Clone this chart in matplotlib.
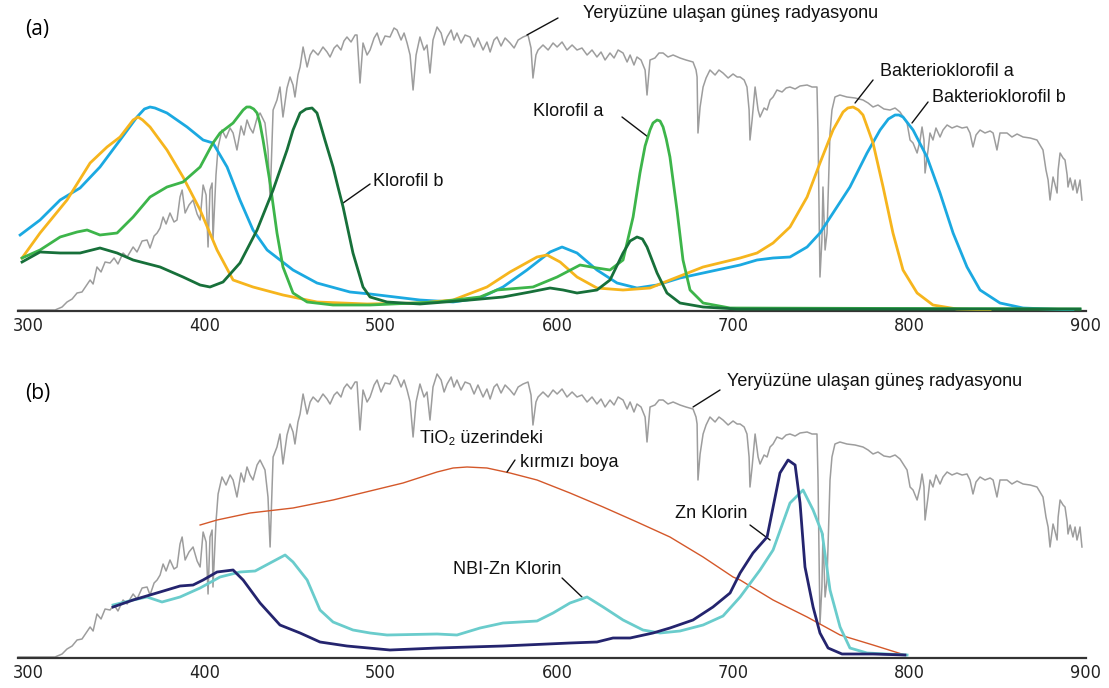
import matplotlib
matplotlib.use("Agg")
import matplotlib.pyplot as plt

plt.rcParams['font.family'] = ['Liberation Sans', 'DejaVu Sans']

# solar spectrum reaching the ground (same trace used in both panels)
solar_nm = [294.3, 315.3, 319.3, 322.1, 325.0, 327.8, 330.6, 332.9, 335.2, 336.9,
            339.1, 341.4, 343.7, 346.5, 348.8, 351.0, 353.9, 356.2, 359.6, 361.8,
            364.7, 367.5, 369.2, 371.5, 373.2, 374.9, 376.6, 378.3, 380.5, 382.8,
            384.5, 386.2, 387.4, 389.1, 391.3, 393.6, 395.9, 397.6, 399.3, 401.0,
            402.1, 403.2, 404.4, 404.9, 406.6, 407.8, 410.0, 412.3, 414.6, 416.3,
            418.5, 420.8, 422.5, 424.2, 425.9, 427.6, 429.9, 431.6, 434.4, 436.1,
            437.3, 439.0, 441.2, 442.9, 444.6, 446.9, 448.6, 450.3, 451.4, 453.1,
            454.3, 456.0, 458.3, 460.0, 461.7, 464.5, 467.3, 469.6, 471.3, 473.6,
            475.3, 477.5, 479.2, 480.9, 483.2, 485.5, 486.6, 488.3, 490.0, 492.3,
            494.0, 496.3, 498.0, 500.2, 502.5, 505.3, 507.6, 509.3, 511.6, 513.3,
            515.0, 516.7, 518.4, 520.1, 522.3, 524.6, 526.3, 528.0, 529.7, 532.0,
            534.3, 536.0, 537.7, 540.0, 541.6, 543.3, 545.6, 547.9, 550.7, 553.0,
            555.2, 558.1, 560.3, 562.1, 564.3, 566.0, 568.3, 570.6, 573.4, 575.7,
            578.0, 580.8, 583.6, 585.3, 586.4, 588.1, 589.3, 592.1, 595.0, 597.8,
            600.1, 602.9, 605.7, 608.6, 611.4, 614.2, 617.1, 619.9, 622.7, 625.0,
            627.3, 630.1, 632.4, 634.7, 637.5, 639.8, 641.5, 643.7, 645.4, 647.7,
            650.0, 651.1, 652.8, 655.6, 657.9, 660.2, 663.0, 665.9, 669.8, 673.2,
            677.2, 678.9, 679.5, 680.0, 681.2, 682.9, 684.6, 686.8, 689.7, 691.9,
            694.2, 697.1, 699.9, 702.2, 703.9, 706.2, 707.8, 709.0, 709.5, 710.7,
            712.4, 714.1, 715.2, 717.5, 719.2, 720.9, 722.6, 724.8, 727.7, 730.0,
            732.2, 735.1, 737.9, 741.9, 744.7, 747.5, 748.1, 749.2, 750.3, 750.9,
            752.1, 753.2, 754.9, 756.0, 757.7, 760.5, 764.5, 769.1, 773.6, 776.5,
            779.3, 782.1, 785.5, 788.9, 791.8, 794.6, 798.6, 800.3, 802.0, 804.3,
            806.0, 807.1, 808.2, 808.8, 810.5, 811.6, 813.3, 815.0, 817.3, 819.0,
            821.3, 824.1, 826.9, 829.8, 832.6, 834.3, 836.0, 837.7, 840.0, 842.8,
            845.7, 847.4, 849.6, 851.3, 855.3, 858.1, 861.0, 864.4, 868.4, 872.3,
            875.7, 877.4, 878.6, 879.7, 880.8, 881.4, 882.6, 883.7, 884.3, 885.4,
            887.1, 888.2, 889.4, 889.9, 891.1, 892.7, 893.9, 895.0, 896.1, 896.7,
            897.8]
solar_val = [1, 1, 4, 9, 12, 18, 19, 25, 31, 27,
             44, 39, 49, 48, 53, 47, 58, 54, 64, 59,
             70, 71, 63, 75, 78, 83, 94, 87, 98, 89,
             91, 114, 121, 98, 106, 111, 97, 91, 126, 116,
             64, 121, 128, 71, 136, 164, 181, 173, 183, 178,
             161, 185, 176, 191, 183, 178, 193, 198, 188, 161,
             111, 201, 211, 224, 194, 223, 234, 226, 214, 236,
             244, 264, 244, 256, 261, 256, 264, 259, 254, 263,
             266, 261, 270, 274, 269, 276, 276, 228, 268, 256,
             261, 273, 278, 266, 275, 274, 283, 281, 271, 278,
             268, 256, 221, 256, 274, 261, 266, 238, 271, 284,
             278, 266, 274, 281, 271, 278, 268, 276, 274, 264,
             273, 261, 269, 259, 271, 274, 265, 273, 268, 263,
             271, 274, 276, 263, 233, 256, 261, 266, 261, 268,
             264, 269, 261, 266, 261, 263, 256, 261, 254, 259,
             251, 258, 253, 261, 258, 249, 256, 246, 254, 251,
             241, 216, 251, 253, 258, 258, 254, 256, 253, 251,
             249, 241, 234, 178, 204, 224, 233, 241, 236, 241,
             238, 233, 237, 234, 234, 231, 224, 201, 171, 191,
             224, 201, 194, 203, 201, 211, 214, 221, 219, 223,
             224, 222, 225, 226, 224, 224, 178, 34, 71, 124,
             61, 78, 178, 201, 214, 216, 214, 213, 211, 208,
             204, 206, 202, 201, 203, 199, 188, 171, 168, 158,
             171, 184, 171, 138, 161, 178, 171, 183, 174, 181,
             186, 183, 185, 183, 184, 178, 164, 176, 181, 178,
             180, 178, 161, 178, 178, 174, 177, 174, 173, 171,
             161, 141, 131, 111, 126, 134, 126, 118, 141, 158,
             153, 151, 136, 124, 133, 121, 131, 118, 126, 131,
             111]

# panel (a): pigment absorption
bchl_b_nm = [295.5, 306.8, 318.2, 329.5, 340.8, 352.2, 361.8, 366.0, 369.2, 372.0,
             378.8, 390.2, 399.3, 404.9, 412.9, 420.2, 427.6, 435.6, 450.3, 463.9,
             482.6, 494.0, 522.3, 541.1, 556.4, 569.4, 583.0, 596.1, 602.9, 611.4,
             622.7, 634.1, 645.4, 656.8, 669.8, 682.9, 703.9, 713.5, 722.6, 732.2,
             741.9, 749.2, 756.6, 766.2, 775.9, 783.3, 788.0, 791.8, 794.0, 796.3,
             802.0, 809.9, 817.3, 824.7, 832.6, 840.0, 851.3, 864.4, 892.7]
bchl_b_val = [76, 91, 111, 123, 144, 171, 194, 202, 204, 203,
              198, 184, 171, 168, 144, 111, 81, 61, 41, 28,
              19, 17, 11, 9, 13, 24, 41, 59, 64, 58,
              41, 28, 23, 26, 33, 38, 46, 51, 53, 54,
              64, 78, 98, 124, 158, 181, 192, 196, 196, 194,
              181, 154, 118, 78, 44, 21, 8, 3, 1]

bchl_a_nm = [296.6, 306.8, 322.1, 335.2, 344.8, 352.2, 359.6, 362.4, 365.0, 369.2,
             378.8, 387.9, 397.6, 407.2, 416.3, 427.6, 444.6, 463.9, 492.3, 522.3,
             541.1, 560.3, 573.4, 588.7, 594.4, 601.8, 611.4, 622.7, 637.5, 652.8,
             664.1, 682.9, 703.9, 713.5, 722.6, 732.2, 741.9, 749.2, 756.6, 762.3,
             765.0, 768.0, 771.0, 773.6, 779.3, 785.0, 790.6, 796.3, 804.3, 813.3,
             826.9, 845.7]
bchl_a_val = [53, 78, 111, 148, 164, 174, 191, 194, 191, 184,
              161, 134, 101, 61, 31, 24, 16, 9, 7, 8,
              11, 24, 39, 54, 56, 49, 34, 23, 21, 23,
              31, 44, 53, 58, 68, 84, 114, 148, 181, 199,
              203, 204, 201, 196, 168, 124, 78, 41, 18, 6,
              2, 1]

chl_a_nm = [296.6, 306.8, 318.2, 327.8, 333.5, 340.8, 350.5, 359.6, 369.2, 378.8,
            387.9, 397.6, 404.9, 408.9, 416.3, 422.0, 424.0, 425.9, 428.0, 429.9,
            431.5, 433.3, 437.3, 441.2, 444.6, 450.3, 458.3, 473.0, 494.0, 532.0,
            556.4, 566.0, 586.4, 600.1, 613.1, 622.7, 630.1, 637.5, 643.2, 647.1,
            650.0, 652.8, 654.5, 656.8, 658.5, 660.2, 662.0, 664.1, 668.1, 671.5,
            675.5, 682.9, 698.2, 896.7]
chl_a_val = [53, 61, 74, 79, 81, 76, 78, 94, 114, 124,
             129, 144, 168, 178, 188, 201, 204, 204, 202, 198,
             188, 171, 128, 78, 44, 18, 9, 6, 6, 9,
             14, 21, 24, 34, 46, 43, 41, 51, 94, 138,
             165, 181, 188, 191, 190, 184, 172, 154, 101, 51,
             21, 8, 3, 2]

chl_b_nm = [296.6, 306.8, 318.2, 329.5, 340.8, 350.5, 359.6, 374.9, 387.9, 397.6,
            403.2, 410.6, 420.2, 429.9, 439.0, 446.9, 450.3, 454.3, 457.7, 461.1,
            463.9, 465.6, 468.4, 473.0, 475.8, 478.7, 484.3, 490.0, 494.0, 503.6,
            522.3, 550.7, 569.4, 584.7, 596.1, 603.5, 611.4, 622.7, 630.1, 637.5,
            641.5, 645.4, 648.5, 651.1, 656.8, 662.4, 669.8, 682.9, 702.2, 896.7]
chl_b_val = [49, 59, 58, 58, 63, 58, 51, 44, 34, 26,
             24, 29, 48, 81, 121, 161, 181, 198, 202, 203,
             198, 188, 171, 144, 124, 104, 58, 24, 14, 9,
             7, 11, 14, 19, 23, 21, 18, 21, 31, 58,
             70, 74, 72, 64, 38, 18, 8, 4, 2, 2]

# panel (b): dyes
tio2_nm = [397.6, 407.2, 425.9, 450.3, 473.0, 494.0, 512.7, 532.0, 541.1, 549.0,
           560.3, 573.4, 588.7, 607.4, 626.2, 645.4, 664.1, 682.9, 699.9, 703.9,
           722.6, 741.9, 760.6, 779.3, 797.4]
tio2_val = [133, 138, 145, 150, 158, 167, 175, 186, 190, 191,
            190, 185, 178, 165, 151, 136, 121, 101, 81, 78,
            58, 41, 23, 13, 3]

zn_nm = [348.2, 359.6, 374.9, 386.2, 393.6, 399.3, 407.2, 416.3, 422.0, 431.6,
         442.9, 454.3, 465.6, 480.9, 505.3, 532.0, 569.4, 607.4, 622.7, 631.8,
         641.5, 654.5, 664.1, 677.2, 688.5, 698.2, 703.9, 711.2, 719.2, 726.5,
         731.1, 735.1, 737.9, 740.7, 745.3, 749.2, 753.8, 761.7, 779.3, 797.4]
zn_val = [51, 58, 66, 72, 73, 78, 86, 88, 78, 55,
          33, 25, 16, 12, 8, 10, 12, 15, 16, 20,
          20, 25, 30, 38, 51, 65, 85, 105, 121, 185,
          198, 193, 155, 91, 51, 25, 10, 4, 4, 3]

nbi_nm = [348.2, 359.6, 367.5, 376.0, 386.2, 397.6, 408.9, 420.2, 428.8, 445.8,
          450.3, 458.3, 465.6, 473.0, 484.3, 494.0, 503.6, 532.0, 543.3, 556.4,
          569.4, 588.7, 597.8, 607.4, 617.1, 626.2, 637.5, 648.8, 658.5, 669.8,
          682.9, 694.2, 703.9, 715.2, 722.6, 732.2, 739.6, 745.3, 750.4, 754.9,
          760.6, 766.2, 775.9, 798.6]
nbi_val = [53, 58, 61, 56, 61, 70, 81, 86, 87, 103,
           96, 78, 48, 36, 28, 25, 23, 24, 23, 30,
           35, 37, 45, 55, 61, 51, 38, 28, 25, 27,
           33, 42, 61, 88, 108, 155, 168, 148, 125, 68,
           31, 10, 5, 3]

ticks = [300, 400, 500, 600, 700, 800, 900]

GRAY = '#9d9d9d'
W, H = 1109, 688

fig = plt.figure(figsize=(W / 100, H / 100), dpi=100)
ax_a = fig.add_axes([18 / W, 1 - 311 / H, 1068 / W, 311 / H])
ax_b = fig.add_axes([18 / W, 1 - 658 / H, 1068 / W, 313 / H])

for ax, top in [(ax_a, 311), (ax_b, 313)]:
    ax.set_xlim(294.3, 900.1)
    ax.set_ylim(0, top)
    ax.patch.set_alpha(0)
    for side in ['left', 'right', 'top']:
        ax.spines[side].set_visible(False)
    ax.spines['bottom'].set_color('#333333')
    ax.spines['bottom'].set_linewidth(1.6)
    ax.set_yticks([])
    ax.set_xticks(ticks)
    ax.set_xticklabels([str(t) for t in ticks], family='DejaVu Sans',
                       fontstretch='condensed', fontsize=13, color='#222222')
    ax.tick_params(axis='x', length=0, pad=4)
    ax.plot(solar_nm, solar_val, color=GRAY, lw=1.1, zorder=1, clip_on=False)

# (a)
ax_a.plot(bchl_b_nm, bchl_b_val, color='#1ba9e1', lw=2.0, zorder=3)
ax_a.plot(bchl_a_nm, bchl_a_val, color='#f6b51d', lw=2.0, zorder=3)
ax_a.plot(chl_a_nm, chl_a_val, color='#3db54a', lw=2.0, zorder=4)
ax_a.plot(chl_b_nm, chl_b_val, color='#17703a', lw=2.0, zorder=5)

# (b)
ax_b.plot(tio2_nm, tio2_val, color='#d4582a', lw=1.0, zorder=3)
ax_b.plot(nbi_nm, nbi_val, color='#6acccc', lw=2.0, zorder=4)
ax_b.plot(zn_nm, zn_val, color='#24246e', lw=2.0, zorder=5)

# labels with leader lines: (text, text x, text y, leader start, leader end)
labels_a = [
    ('Yeryüzüne ulaşan güneş radyasyonu', 614.8, 297, (583.0, 276), (600.6, 293)),
    ('Klorofil b', 495.7, 129, (478.7, 108), (494.0, 127)),
    ('Klorofil a', 586.4, 199, (651.7, 174), (636.9, 194)),
    ('Bakterioklorofil a', 783.3, 239, (769.1, 208), (779.3, 231)),
    ('Bakterioklorofil b', 812.8, 214, (801.4, 188), (810.5, 209)),
]
labels_b = [
    ('Yeryüzüne ulaşan güneş radyasyonu', 696.5, 277, (677.2, 251), (692.5, 268)),
    ('TiO₂ üzerindeki', 522.3, 220, None, None),
    ('kırmızı boya', 579.1, 196, (571.7, 186), (576.2, 198)),
    ('NBI-Zn Klorin', 541.1, 88, (614.2, 61), (602.9, 80)),
    ('Zn Klorin', 667.0, 145, (720.9, 118), (709.5, 133)),
]
for ax, labels in [(ax_a, labels_a), (ax_b, labels_b)]:
    for txt, tx, ty, p0, p1 in labels:
        ax.text(tx, ty, txt, fontsize=13, ha='left', va='center', color='#111111')
        if p0 is not None:
            ax.annotate('', xy=p0, xytext=p1,
                        arrowprops=dict(arrowstyle='-', color='#111111', lw=1.0,
                                        shrinkA=0, shrinkB=0))

fig.text(25 / W, 1 - 30 / H, '(a)', fontsize=15, family=['Open Sans', 'DejaVu Sans'],
         ha='left', va='center')
fig.text(25 / W, 1 - 394 / H, '(b)', fontsize=15, family=['Open Sans', 'DejaVu Sans'],
         ha='left', va='center')

fig.savefig('out.png', dpi=100)
